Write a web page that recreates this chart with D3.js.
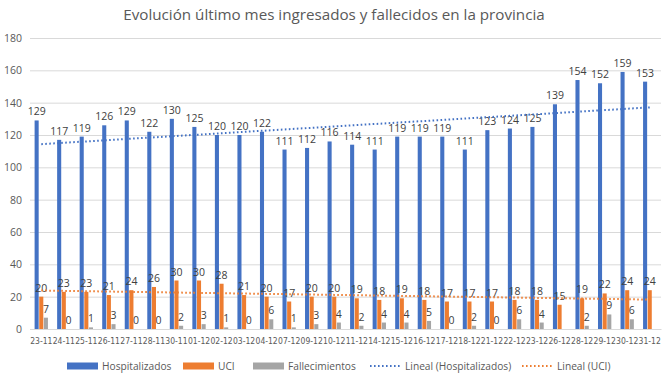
<!DOCTYPE html>
<html>
<head>
<meta charset="utf-8">
<script src="https://cdn.jsdelivr.net/npm/d3@7"></script>
<style>
  body { margin: 0; background: #fff; }
  text { font-family: "Open Sans", "Noto Sans", sans-serif; fill: #595959; }
</style>
</head>
<body>
<div id="chart"></div>
<script>
// categories (fecha) and series
const fechas = ["23-11","24-11","25-11","26-11","27-11","28-11","30-11","01-12","02-12","03-12",
  "04-12","07-12","09-12","10-12","11-12","14-12","15-12","16-12","17-12","18-12",
  "21-12","22-12","23-12","26-12","28-12","29-12","30-12","31-12"];
const hospitalizados = [129,117,119,126,129,122,130,125,120,120,122,111,112,116,114,111,119,119,119,111,123,124,125,139,154,152,159,153];
const uci = [20,23,23,21,24,26,30,30,28,21,20,17,20,20,19,18,19,18,17,17,17,18,18,15,19,22,24,24];
const fallecimientos = [7,0,1,3,0,0,2,3,1,0,6,1,3,4,2,4,4,5,0,2,0,6,4,null,2,9,6,null];
const yTicks = [0,20,40,60,80,100,120,140,160,180];

const series = [
  { name: "Hospitalizados", values: hospitalizados, color: "#4472C4" },
  { name: "UCI", values: uci, color: "#ED7D31" },
  { name: "Fallecimientos", values: fallecimientos, color: "#A5A5A5" }
];

const width = 670, height = 377;
const margins = { top: 38, bottom: 48, left: 30, right: 9 };

const svg = d3.select("#chart").append("svg")
  .attr("width", width).attr("height", height);

// title
svg.append("text")
  .attr("x", 334).attr("y", 20)
  .attr("text-anchor", "middle")
  .style("font-size", "15.2px")
  .text("Evolución último mes ingresados y fallecidos en la provincia");

const x0 = d3.scaleBand()
  .domain(fechas)
  .range([margins.left, width - margins.right])
  .padding(0);

const x1 = d3.scaleBand()
  .domain(series.map(s => s.name))
  .range([4.6, x0.bandwidth() - 4.6])
  .paddingInner(0.12);

const yScale = d3.scaleLinear()
  .domain([0, 180])
  .range([height - margins.bottom, margins.top]);

// gridlines + y labels
const yAxis = svg.append("g")
  .attr("transform", `translate(${margins.left},0)`)
  .call(d3.axisLeft(yScale).tickValues(yTicks).tickSize(-(width - margins.left - margins.right)).tickPadding(8));
yAxis.select(".domain").remove();
yAxis.selectAll("line").attr("stroke", "#D9D9D9");
yAxis.selectAll("text").style("font-size", "10.5px").style("fill", "#595959");

// x labels
const xAxis = svg.append("g")
  .attr("transform", `translate(0,${height - margins.bottom})`)
  .call(d3.axisBottom(x0).tickSize(0).tickPadding(8));
xAxis.select(".domain").attr("stroke", "#D9D9D9");
xAxis.selectAll("text")
  .style("font-family", "'DejaVu Sans Condensed', 'Liberation Sans Narrow', 'Liberation Sans', sans-serif")
  .style("font-size", "9.5px").style("fill", "#595959")
  .attr("textLength", x0.bandwidth() - 0.3)
  .attr("lengthAdjust", "spacingAndGlyphs");

// bars
const groups = svg.selectAll("g.serie")
  .data(series)
  .join("g")
  .attr("class", "serie")
  .attr("fill", s => s.color);

groups.selectAll("rect")
  .data(s => s.values.map((v, i) => ({ name: s.name, fecha: fechas[i], v })).filter(d => d.v !== null))
  .join("rect")
  .attr("x", d => x0(d.fecha) + x1(d.name))
  .attr("width", x1.bandwidth())
  .attr("y", d => yScale(d.v))
  .attr("height", d => yScale(0) - yScale(d.v));

// value labels
groups.selectAll("text")
  .data(s => s.values.map((v, i) => ({ name: s.name, fecha: fechas[i], v })).filter(d => d.v !== null))
  .join("text")
  .attr("x", d => x0(d.fecha) + x1(d.name) + x1.bandwidth() / 2)
  .attr("y", d => yScale(d.v) - 5)
  .attr("text-anchor", "middle")
  .style("font-size", "10.5px")
  .style("fill", "#404040")
  .text(d => d.v);

// linear trendlines (least squares fit on index)
function fit(values) {
  const pts = values.map((v, i) => [i, v]).filter(p => p[1] !== null);
  const mx = d3.mean(pts, p => p[0]), my = d3.mean(pts, p => p[1]);
  const b = d3.sum(pts, p => (p[0] - mx) * (p[1] - my)) / d3.sum(pts, p => (p[0] - mx) ** 2);
  const a = my - b * mx;
  return fechas.map((f, i) => ({ fecha: f, v: a + b * i }));
}
const trends = [
  { name: "Lineal (Hospitalizados)", data: fit(hospitalizados), color: "#4472C4" },
  { name: "Lineal (UCI)", data: fit(uci), color: "#ED7D31" }
];
const line = d3.line()
  .x(d => x0(d.fecha) + x0.bandwidth() / 2)
  .y(d => yScale(d.v));
svg.selectAll("path.trend")
  .data(trends)
  .join("path")
  .attr("class", "trend")
  .attr("d", t => line(t.data))
  .attr("fill", "none")
  .attr("stroke", t => t.color)
  .attr("stroke-width", 2)
  .attr("stroke-dasharray", "1.6,2.4");

// legend
const legendItems = [
  { name: "Hospitalizados", color: "#4472C4", type: "bar", x: 67 },
  { name: "UCI", color: "#ED7D31", type: "bar", x: 183 },
  { name: "Fallecimientos", color: "#A5A5A5", type: "bar", x: 253 },
  { name: "Lineal (Hospitalizados)", color: "#4472C4", type: "line", x: 370 },
  { name: "Lineal (UCI)", color: "#ED7D31", type: "line", x: 522 }
];
const legend = svg.selectAll("g.legend")
  .data(legendItems)
  .join("g")
  .attr("class", "legend")
  .attr("transform", d => `translate(${d.x},366)`);
legend.filter(d => d.type === "bar").append("rect")
  .attr("x", 0).attr("y", -3.5).attr("width", 31).attr("height", 7)
  .attr("fill", d => d.color);
legend.filter(d => d.type === "line").append("line")
  .attr("x1", 0).attr("x2", 32).attr("y1", 0).attr("y2", 0)
  .attr("stroke", d => d.color).attr("stroke-width", 2)
  .attr("stroke-dasharray", "1.6,2.4");
legend.append("text")
  .attr("x", 35).attr("y", 4)
  .style("font-size", "10.2px")
  .text(d => d.name);
</script>
</body>
</html>
